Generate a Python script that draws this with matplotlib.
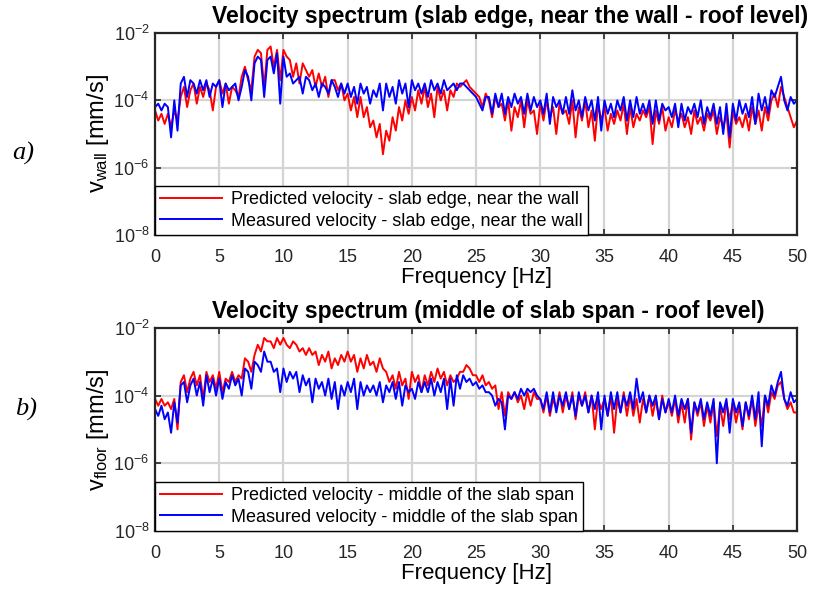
import numpy as np
import matplotlib
matplotlib.use("Agg")
import matplotlib.pyplot as plt
from matplotlib.ticker import LogLocator, LogFormatterSciNotation, NullLocator

plt.rcParams['font.family'] = ['Liberation Sans', 'DejaVu Sans']
plt.rcParams['mathtext.fontset'] = 'custom'
plt.rcParams['mathtext.rm'] = 'Liberation Sans'
plt.rcParams['mathtext.it'] = 'Liberation Sans:italic'

# frequency axis: 0 .. 50 Hz, one value every 0.25 Hz
freq = np.linspace(0, 50, 201)

# log10 of velocity [mm/s]
pred_wall = [
    -4.3, -4.6, -4.4, -4.7, -4.4, -4.8, -4.3, -4.6, -3.9, -3.6, -4.2, -3.7,
    -3.5, -4.1, -3.6, -3.9, -3.5, -3.7, -4.3, -3.6, -3.4, -3.8, -3.5, -4.1,
    -3.6, -3.7, -3.9, -3.3, -3.0, -3.4, -3.7, -2.7, -2.5, -2.6, -3.6, -2.5,
    -2.4, -3.0, -2.5, -3.4, -2.5, -2.7, -2.8, -3.3, -2.9, -3.5, -2.9, -3.1,
    -3.3, -3.1, -3.6, -3.2, -3.6, -3.3, -3.9, -3.4, -3.4, -3.7, -3.5, -4.0,
    -3.8, -4.3, -3.9, -4.5, -3.9, -4.5, -4.2, -4.8, -4.6, -5.1, -4.7, -5.6,
    -4.9, -5.2, -4.5, -4.9, -4.2, -4.6, -4.0, -4.4, -3.9, -4.3, -3.7, -4.1,
    -3.6, -4.2, -3.8, -4.5, -3.6, -4.0, -3.7, -4.3, -3.7, -3.9, -3.5, -3.6,
    -3.5, -3.4, -3.6, -3.7, -3.8, -3.9, -4.2, -3.8, -4.0, -4.5, -3.9, -4.2,
    -4.1, -4.6, -4.0, -4.9, -4.2, -4.5, -4.0, -4.8, -4.0, -4.4, -4.3, -5.0,
    -4.1, -4.6, -4.0, -4.5, -4.2, -5.0, -4.1, -4.4, -4.3, -4.7, -4.0, -5.1,
    -4.2, -4.6, -4.0, -4.8, -4.3, -5.2, -4.1, -4.6, -4.2, -4.9, -4.4, -4.7,
    -4.3, -4.6, -4.1, -5.0, -4.2, -4.8, -4.4, -4.6, -4.3, -4.5, -4.2, -5.3,
    -4.3, -4.7, -4.2, -4.9, -4.5, -4.8, -4.3, -4.6, -4.4, -4.8, -4.5, -5.0,
    -4.3, -4.7, -4.5, -4.9, -4.4, -4.6, -4.3, -5.0, -4.5, -4.8, -4.4, -5.4,
    -4.3, -4.7, -4.5, -4.8, -4.4, -4.9, -4.2, -4.7, -4.3, -4.9, -4.2, -4.6,
    -4.0, -3.8, -4.2, -3.6, -3.9, -4.2, -4.5, -4.8, -4.6,
]
meas_wall = [
    -4.2, -4.1, -4.3, -4.1, -4.2, -5.1, -4.0, -4.9, -3.5, -3.3, -3.9, -3.4,
    -3.5, -3.8, -3.4, -3.7, -3.4, -3.9, -3.5, -3.6, -3.4, -4.2, -3.5, -3.7,
    -3.6, -3.5, -4.0, -3.6, -3.1, -3.3, -4.0, -2.9, -2.7, -2.8, -3.9, -2.8,
    -2.7, -3.2, -2.6, -4.1, -2.7, -3.3, -3.2, -3.5, -3.4, -3.3, -3.8, -3.3,
    -3.4, -3.7, -3.5, -3.9, -3.5, -3.6, -3.8, -3.4, -3.6, -3.9, -3.5, -3.8,
    -3.5, -3.9, -3.6, -4.1, -3.5, -3.8, -3.6, -4.1, -3.7, -3.9, -3.5, -4.3,
    -3.5, -3.9, -3.6, -4.1, -3.4, -3.8, -3.5, -4.2, -3.4, -3.7, -3.5, -3.8,
    -3.5, -3.9, -3.4, -3.7, -3.5, -3.8, -3.4, -3.7, -3.6, -3.5, -3.7, -3.5,
    -3.5, -3.6, -3.7, -3.8, -3.9, -4.1, -4.3, -3.9, -3.9, -4.4, -3.8, -4.2,
    -3.8, -4.4, -3.9, -4.2, -3.8, -4.1, -3.9, -4.4, -3.8, -4.3, -3.9, -4.2,
    -4.0, -4.4, -3.8, -4.7, -3.9, -4.2, -4.0, -4.4, -3.9, -4.4, -3.7, -4.3,
    -4.0, -4.5, -3.9, -4.3, -4.0, -4.6, -3.9, -4.9, -4.0, -4.4, -4.1, -4.5,
    -4.0, -4.3, -3.9, -4.6, -4.0, -4.5, -3.9, -4.4, -4.1, -4.4, -4.0, -4.7,
    -4.0, -4.6, -4.1, -4.3, -4.2, -4.5, -4.1, -4.8, -4.1, -4.6, -4.2, -4.4,
    -4.1, -4.5, -4.0, -4.7, -4.2, -4.5, -4.1, -4.7, -4.2, -5.0, -4.1, -5.1,
    -4.1, -4.6, -4.0, -4.4, -4.1, -4.5, -3.9, -4.7, -3.8, -4.3, -3.9, -4.4,
    -3.7, -3.9, -3.6, -3.3, -4.0, -4.3, -3.9, -4.1, -4.0,
]
pred_floor = [
    -4.1, -4.3, -4.1, -4.3, -4.2, -4.4, -4.1, -5.0, -3.6, -3.4, -3.9, -3.5,
    -3.3, -3.7, -3.4, -4.1, -3.3, -3.6, -3.4, -3.8, -3.3, -3.9, -3.5, -3.6,
    -3.3, -3.6, -3.4, -3.5, -2.9, -3.0, -3.3, -2.8, -2.5, -2.7, -2.3, -2.4,
    -2.4, -2.6, -2.3, -2.5, -2.3, -2.5, -2.6, -2.4, -2.5, -2.7, -2.6, -2.8,
    -2.6, -2.8, -2.7, -3.1, -2.8, -3.0, -2.7, -3.2, -2.9, -3.1, -2.8, -3.0,
    -2.7, -3.0, -2.8, -3.3, -2.9, -3.2, -2.8, -3.1, -3.0, -3.3, -2.9, -3.2,
    -3.3, -3.6, -3.4, -3.8, -3.3, -3.7, -3.5, -4.1, -3.3, -3.6, -3.4, -3.9,
    -3.4, -3.7, -3.3, -3.6, -3.2, -3.5, -3.3, -3.7, -3.4, -3.6, -3.5, -3.3,
    -3.3, -3.1, -3.2, -3.4, -3.4, -3.6, -3.4, -3.7, -3.6, -3.8, -3.7, -4.4,
    -3.9, -4.6, -3.9, -4.1, -3.9, -4.2, -4.0, -4.4, -3.9, -4.3, -3.9, -4.1,
    -4.1, -4.5, -4.0, -4.6, -4.1, -4.4, -3.9, -4.5, -4.0, -4.4, -3.9, -4.7,
    -4.0, -4.3, -3.9, -4.5, -4.0, -5.0, -4.1, -4.4, -4.1, -4.6, -4.0, -5.1,
    -4.1, -4.5, -3.9, -4.6, -4.0, -4.6, -4.1, -4.8, -4.1, -4.5, -4.0, -4.6,
    -4.1, -4.7, -4.0, -4.5, -4.2, -4.6, -4.1, -4.8, -4.2, -4.8, -4.1, -5.3,
    -4.2, -4.6, -4.2, -4.9, -4.3, -4.8, -4.2, -5.2, -4.3, -4.9, -4.2, -4.7,
    -4.2, -4.8, -4.3, -5.0, -4.2, -4.7, -4.1, -4.9, -4.3, -4.9, -4.0, -4.5,
    -3.9, -4.1, -3.7, -3.6, -4.1, -4.4, -4.2, -4.5, -4.5,
]
meas_floor = [
    -4.4, -4.6, -4.3, -4.7, -4.5, -5.1, -4.2, -4.8, -3.7, -3.6, -4.2, -3.7,
    -3.5, -4.0, -3.6, -4.3, -3.4, -3.9, -3.5, -4.0, -3.5, -4.1, -3.6, -3.8,
    -3.4, -3.7, -3.5, -4.0, -3.2, -3.3, -3.8, -3.0, -3.1, -3.3, -2.7, -3.0,
    -3.0, -3.3, -3.2, -3.9, -3.2, -3.6, -3.3, -3.5, -3.3, -3.9, -3.4, -3.7,
    -3.5, -4.2, -3.5, -3.8, -3.6, -4.0, -3.5, -4.1, -3.6, -4.4, -3.7, -4.0,
    -3.6, -3.9, -3.5, -4.4, -3.6, -4.0, -3.7, -3.9, -3.7, -4.0, -3.6, -4.2,
    -3.7, -3.9, -3.6, -4.1, -3.6, -4.3, -3.7, -3.9, -3.8, -4.1, -3.6, -3.9,
    -3.6, -3.9, -3.5, -4.0, -3.6, -3.9, -3.5, -4.4, -3.5, -4.3, -3.4, -3.8,
    -3.4, -3.6, -3.5, -3.7, -3.6, -3.8, -3.7, -3.9, -3.9, -4.0, -4.3, -4.1,
    -4.2, -5.0, -4.0, -4.1, -3.9, -4.1, -3.8, -4.0, -3.8, -3.9, -3.8, -4.0,
    -4.1, -4.4, -3.9, -4.5, -3.9, -4.5, -4.0, -4.3, -3.9, -4.4, -4.0, -4.6,
    -3.9, -4.3, -4.0, -4.5, -4.0, -4.4, -3.9, -5.0, -4.0, -4.6, -3.9, -4.4,
    -3.9, -4.5, -4.0, -4.3, -3.9, -4.4, -3.5, -4.2, -3.9, -4.5, -4.0, -4.3,
    -4.0, -4.7, -4.1, -4.5, -4.1, -4.5, -4.0, -4.6, -4.1, -4.4, -4.1, -5.1,
    -4.2, -4.5, -4.1, -4.7, -4.2, -4.6, -4.1, -6.0, -4.2, -4.5, -4.1, -5.1,
    -4.1, -4.5, -4.2, -4.9, -4.2, -4.6, -4.0, -4.7, -3.9, -5.5, -4.0, -4.3,
    -3.7, -4.0, -3.6, -3.3, -4.1, -4.3, -3.9, -4.2, -4.1,
]

titles = ["Velocity spectrum (slab edge, near the wall - roof level)",
          "Velocity spectrum (middle of slab span - roof level)"]
ylabels = [r"v$_{\rm wall}$ [mm/s]", r"v$_{\rm floor}$ [mm/s]"]
pred_labels = ["Predicted velocity - slab edge, near the wall",
               "Predicted velocity - middle of the slab span"]
meas_labels = ["Measured velocity - slab edge, near the wall",
               "Measured velocity - middle of the slab span"]
panel_tags = ["a)", "b)"]

fig = plt.figure(figsize=(8.13, 5.94), dpi=100)
ax_top = fig.add_axes([0.1907, 0.6044, 0.7897, 0.340])
ax_bot = fig.add_axes([0.1907, 0.1061, 0.7897, 0.342])

series = [(pred_wall, meas_wall), (pred_floor, meas_floor)]
for i, ax in enumerate([ax_top, ax_bot]):
    pred, meas = series[i]
    ax.semilogy(freq, 10.0 ** np.array(pred), color='#ff0000', lw=1.4,
                label=pred_labels[i])
    ax.semilogy(freq, 10.0 ** np.array(meas), color='#0000ff', lw=1.4,
                label=meas_labels[i])
    ax.set_xlim(0, 50)
    ax.set_ylim(1e-8, 1e-2)
    ax.set_xticks(np.arange(0, 51, 5))
    ax.yaxis.set_major_locator(LogLocator(base=100.0))
    ax.yaxis.set_major_formatter(LogFormatterSciNotation(base=10.0))
    ax.yaxis.set_minor_locator(NullLocator())
    ax.grid(True, color='#d4d4d4', lw=1.6)
    ax.set_axisbelow(True)
    ax.tick_params(direction='in', length=4, width=1.2, top=True, right=True,
                   labelsize=13, colors='#262626', pad=4)
    ax.tick_params(axis='x', pad=10)
    for sp in ax.spines.values():
        sp.set_color('#262626')
        sp.set_linewidth(1.6)
    ax.set_title(titles[i], fontsize=16.5, fontweight='bold', pad=7,
                 x=0.089, ha='left')
    ax.set_xlabel("Frequency [Hz]", fontsize=16, labelpad=1)
    ax.set_ylabel(ylabels[i], fontsize=17, labelpad=2)
    leg = ax.legend(loc='lower left', borderaxespad=0, fancybox=False,
                    framealpha=1, edgecolor='black', fontsize=13,
                    handlelength=3.4, handletextpad=0.5, borderpad=0.3,
                    labelspacing=0.25)
    leg.get_frame().set_linewidth(1.0)

fig.text(0.015, 0.742, panel_tags[0], fontsize=19, family='Liberation Serif',
         style='italic', va='center')
fig.text(0.018, 0.31, panel_tags[1], fontsize=19, family='Liberation Serif',
         style='italic', va='center')

fig.savefig("out.png", dpi=100)
